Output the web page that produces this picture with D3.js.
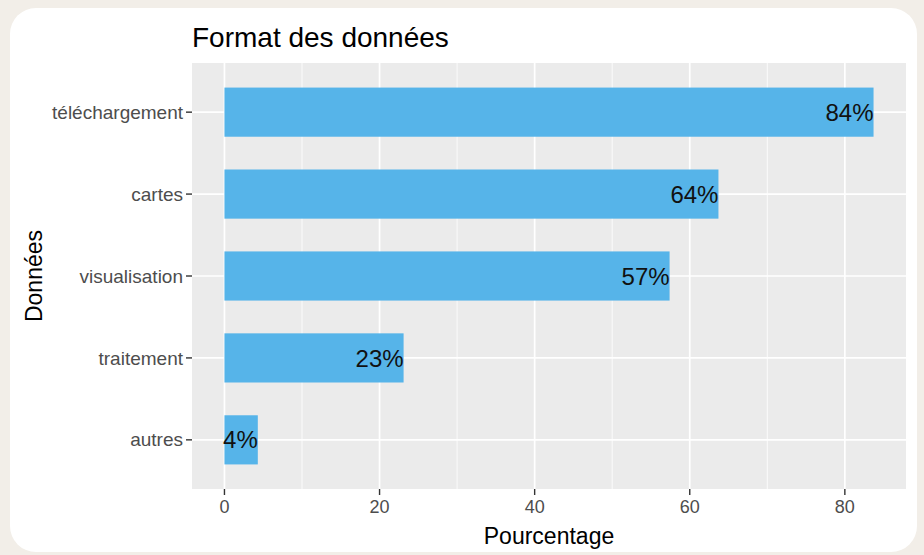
<!DOCTYPE html>
<html><head><meta charset="utf-8">
<script src="https://cdn.jsdelivr.net/npm/d3@7"></script>
<style>
html,body{margin:0;padding:0;background:#f2eee8;}
svg{display:block;font-family:"Liberation Sans",Arial,Helvetica,sans-serif;}
</style></head>
<body>
<svg id="chart" width="924" height="555"></svg>
<script>
const categories = ["téléchargement", "cartes", "visualisation", "traitement", "autres"];
const values = [83.7, 63.7, 57.4, 23.1, 4.3];
const xTicks = [0, 20, 40, 60, 80];
const xMinor = [10, 30, 50, 70];
const title = "Format des données";
const xTitle = "Pourcentage";
const yTitle = "Données";

const svg = d3.select("#chart");
svg.append("rect").attr("x", 10).attr("y", 8).attr("width", 907).attr("height", 544)
  .attr("rx", 26).attr("fill", "#ffffff");

const panel = {left: 192, right: 906, top: 63, bottom: 489};
const maxV = d3.max(values);
const x = d3.scaleLinear().domain([-0.05 * maxV, maxV * 1.05]).range([panel.left, panel.right]);
const yIdx = d3.scaleLinear().domain([0.4, categories.length + 0.6]).range([panel.top, panel.bottom]);
const barH = yIdx(1.6) - yIdx(1);

svg.append("rect").attr("x", panel.left).attr("y", panel.top)
  .attr("width", panel.right - panel.left).attr("height", panel.bottom - panel.top)
  .attr("fill", "#ebebeb");

const g = svg.append("g");
g.selectAll("line.minor").data(xMinor).join("line")
  .attr("x1", d => x(d)).attr("x2", d => x(d)).attr("y1", panel.top).attr("y2", panel.bottom)
  .attr("stroke", "#ffffff").attr("stroke-width", 0.8);
g.selectAll("line.majx").data(xTicks).join("line")
  .attr("x1", d => x(d)).attr("x2", d => x(d)).attr("y1", panel.top).attr("y2", panel.bottom)
  .attr("stroke", "#ffffff").attr("stroke-width", 1.7);
g.selectAll("line.majy").data(categories).join("line")
  .attr("x1", panel.left).attr("x2", panel.right)
  .attr("y1", (d, i) => yIdx(i + 1)).attr("y2", (d, i) => yIdx(i + 1))
  .attr("stroke", "#ffffff").attr("stroke-width", 1.7);

g.selectAll("rect.bar").data(values).join("rect")
  .attr("x", x(0)).attr("y", (d, i) => yIdx(i + 1) - barH / 2)
  .attr("width", d => x(d) - x(0)).attr("height", barH)
  .attr("fill", "#56B4E9");

g.selectAll("text.lbl").data(values).join("text")
  .attr("x", d => x(d)).attr("y", (d, i) => yIdx(i + 1))
  .attr("dy", "0.36em").attr("text-anchor", "end")
  .attr("font-size", 24).attr("fill", "#111").text(d => Math.round(d) + "%");

// x axis
const xa = svg.append("g");
xa.selectAll("line").data(xTicks).join("line")
  .attr("x1", d => x(d)).attr("x2", d => x(d)).attr("y1", panel.bottom).attr("y2", panel.bottom + 6)
  .attr("stroke", "#333").attr("stroke-width", 1.4);
xa.selectAll("text").data(xTicks).join("text")
  .attr("x", d => x(d)).attr("y", panel.bottom + 24).attr("text-anchor", "middle")
  .attr("font-size", 18).attr("fill", "#4d4d4d").text(d => d);

// y axis
const ya = svg.append("g");
ya.selectAll("line").data(categories).join("line")
  .attr("x1", panel.left - 6).attr("x2", panel.left)
  .attr("y1", (d, i) => yIdx(i + 1)).attr("y2", (d, i) => yIdx(i + 1))
  .attr("stroke", "#333").attr("stroke-width", 1.4);
ya.selectAll("text").data(categories).join("text")
  .attr("x", panel.left - 9).attr("y", (d, i) => yIdx(i + 1)).attr("dy", "0.35em")
  .attr("text-anchor", "end").attr("font-size", 19).attr("fill", "#4d4d4d").text(d => d);

svg.append("text").attr("x", panel.left).attr("y", 47).attr("font-size", 28).attr("fill", "#000").text(title);
svg.append("text").attr("x", (panel.left + panel.right) / 2).attr("y", 544).attr("text-anchor", "middle")
  .attr("font-size", 23).attr("fill", "#000").text(xTitle);
svg.append("text").attr("transform", `translate(42,${(panel.top + panel.bottom) / 2}) rotate(-90)`)
  .attr("text-anchor", "middle").attr("font-size", 23).attr("fill", "#000").text(yTitle);
</script>
</body></html>
